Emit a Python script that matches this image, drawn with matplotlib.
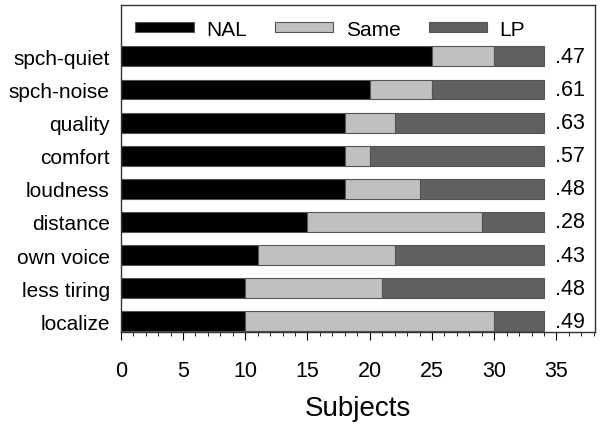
import matplotlib.pyplot as plt
from matplotlib.ticker import MultipleLocator

plt.rcParams['font.family'] = ['Liberation Sans', 'DejaVu Sans']

# categories, bottom to top
categories = ['localize', 'less tiring', 'own voice', 'distance', 'loudness',
              'comfort', 'quality', 'spch-noise', 'spch-quiet']
nal = [10, 10, 11, 15, 18, 18, 18, 20, 25]
same = [20, 11, 11, 14, 6, 2, 4, 5, 5]
lp = [4, 13, 12, 5, 10, 14, 12, 9, 4]
ratios = ['.49', '.48', '.43', '.28', '.48', '.57', '.63', '.61', '.47']

fig = plt.figure(figsize=(6.01, 4.35), dpi=100)
ax = fig.add_axes([0.201, 0.234, 0.789, 0.752])

y = list(range(len(categories)))
left_same = [a for a in nal]
left_lp = [a + b for a, b in zip(nal, same)]
h = 0.6
ax.barh(y, nal, height=h, color='black', edgecolor='#555555', linewidth=0.8, label='NAL')
ax.barh(y, same, left=left_same, height=h, color='#c0c0c0', edgecolor='#555555', linewidth=0.8, label='Same')
ax.barh(y, lp, left=left_lp, height=h, color='#606060', edgecolor='#555555', linewidth=0.8, label='LP')

# ratio value to the right of each bar
for yi, total, r in zip(y, [a + b + c for a, b, c in zip(nal, same, lp)], ratios):
    ax.text(total + 0.9, yi, r, va='center', ha='left', fontsize=15.5)

ax.set_xlim(0, 38.1)
ax.set_ylim(-0.33, 9.55)
ax.set_yticks(y)
ax.set_yticklabels(categories, fontsize=15)
ax.tick_params(axis='y', length=0, pad=8)
ax.set_xticks(range(0, 36, 5))
ax.xaxis.set_minor_locator(MultipleLocator(1))
ax.tick_params(axis='x', which='major', direction='out', length=6, labelsize=15.5, pad=14)
ax.tick_params(axis='x', which='minor', direction='out', length=3)
ax.set_xlabel('Subjects', fontsize=20, labelpad=10)

for s in ax.spines.values():
    s.set_color('#333333')
    s.set_linewidth(1.0)

ax.legend(loc='upper left', bbox_to_anchor=(0.0, 1.0), ncol=3, frameon=False,
          fontsize=15, handlelength=2.8, handleheight=0.4, handletextpad=0.6,
          columnspacing=1.35, borderaxespad=0.3)

fig.savefig('out.png', dpi=100)
